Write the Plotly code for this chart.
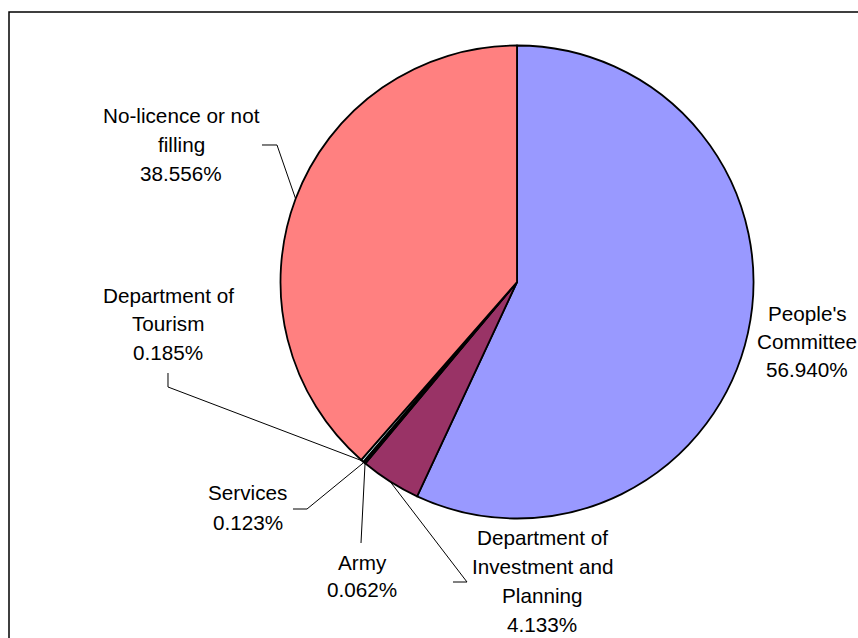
import math
import plotly.graph_objects as go

# ---- data ----
categories = ["People's Committee", "Department of Investment and Planning", "Army",
              "Services", "Department of Tourism", "No-licence or not filling"]
values = [56.940, 4.133, 0.062, 0.123, 0.185, 38.556]
value_labels = ["56.940%", "4.133%", "0.062%", "0.123%", "0.185%", "38.556%"]
label_lines = [
    ["People's", "Committee"],
    ["Department of", "Investment and", "Planning"],
    ["Army"],
    ["Services"],
    ["Department of", "Tourism"],
    ["No-licence or not", "filling"],
]
colors = ["#9999FF", "#993366", "#FFFFCC", "#CCFFFF", "#CCFFFF", "#FF8080"]

# ---- layout constants (pixels) ----
W, H = 858, 638
CX, CY, R = 517, 282, 236.5


def px(x):
    return x / W


def py(y):
    return 1 - y / H


fig = go.Figure(go.Pie(
    labels=categories, values=values, sort=False, direction="clockwise", rotation=0,
    marker=dict(colors=colors, line=dict(color="black", width=1.8)),
    textinfo="none", hoverinfo="label+percent", showlegend=False,
    domain=dict(x=[px(CX - R), px(CX + R)], y=[py(CY + R), py(CY - R)]),
))

# label placement: (center x, first line y, line spacing)
label_pos = [
    (807, 313, 28),
    (542, 537, 29.3),
    (362, 562, 27),
    (248, 492, 30),
    (168, 295, 28.5),
    (181, 115, 29),
]
# leader line waypoints (from slice edge toward label)
leader_pts = [
    None,
    [(467, 582), (453, 582)],
    [(361, 543)],
    [(307, 509), (293, 509)],
    [(168, 387), (168, 373)],
    [(277, 145), (262, 145)],
]

font = dict(family="Liberation Sans, Arial, sans-serif", size=20.7, color="black")
annotations = []
shapes = []
total = sum(values)
cum = 0.0
for i, v in enumerate(values):
    mid = (cum + v / 2) / total * 2 * math.pi
    cum += v
    lines = label_lines[i] + [value_labels[i]]
    x0, y0, dy = label_pos[i]
    for k, t in enumerate(lines):
        annotations.append(dict(x=px(x0), y=py(y0 + k * dy), xref="paper", yref="paper",
                                text=t, showarrow=False, xanchor="center", yanchor="middle",
                                font=font))
    if leader_pts[i]:
        ex = CX + R * math.sin(mid)
        ey = CY - R * math.cos(mid)
        pts = [(ex, ey)] + leader_pts[i]
        path = "M " + " L ".join(f"{px(a):.5f},{py(b):.5f}" for a, b in pts)
        shapes.append(dict(type="path", path=path, xref="paper", yref="paper",
                           line=dict(color="black", width=1)))

# chart frame
shapes.append(dict(type="rect", xref="paper", yref="paper",
                   x0=px(9), x1=px(870), y0=py(660), y1=py(12),
                   line=dict(color="black", width=1.5), fillcolor="rgba(0,0,0,0)"))

fig.update_layout(width=W, height=H, margin=dict(l=0, r=0, t=0, b=0),
                  paper_bgcolor="white", plot_bgcolor="white",
                  annotations=annotations, shapes=shapes)
fig.write_html("out.html", config={"displayModeBar": False},
               post_script="document.body.style.margin='0';document.body.style.overflow='hidden';")
